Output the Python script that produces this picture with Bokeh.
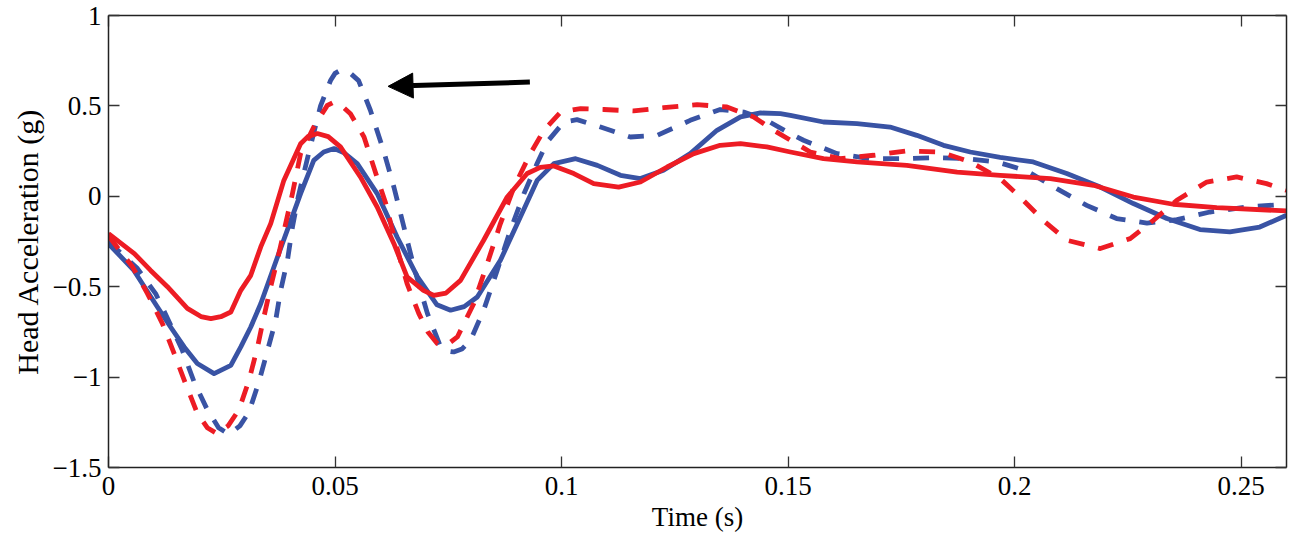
from bokeh.plotting import figure
from bokeh.models import Range1d, LinearAxis, FixedTicker, Arrow, NormalHead
from bokeh.embed import file_html
from bokeh.resources import INLINE

# ---- data ----
x_ticks = [0, 0.05, 0.1, 0.15, 0.2, 0.25]
x_tick_labels = ["0", "0.05", "0.1", "0.15", "0.2", "0.25"]
y_ticks = [-1.5, -1, -0.5, 0, 0.5, 1]
y_tick_labels = ["\u22121.5", "\u22121", "\u22120.5", "0", "0.5", "1"]

blue_solid_t = [0, 0.0056, 0.0108, 0.0137, 0.0167, 0.0196, 0.0233, 0.027, 0.0292, 0.0314,
                0.0336, 0.0373, 0.0424, 0.0453, 0.0475, 0.0498, 0.052, 0.0549, 0.0593, 0.0637,
                0.0682, 0.0725, 0.0755, 0.0785, 0.0814, 0.0865, 0.0909, 0.0946,
                0.0983, 0.1031, 0.1079, 0.113, 0.1174, 0.1225, 0.1284, 0.1343, 0.1395, 0.1439,
                0.1483, 0.1505, 0.1578, 0.1652, 0.1725, 0.1784, 0.1843, 0.1902, 0.1968, 0.2041,
                0.2115, 0.2189, 0.2262, 0.2336, 0.2409, 0.2475, 0.2541, 0.26]
blue_solid_g = [-0.262, -0.41, -0.612, -0.723, -0.833, -0.925, -0.981, -0.935, -0.833, -0.723,
                -0.594, -0.336, 0.015, 0.199, 0.245, 0.264, 0.24, 0.181, 0.015, -0.225,
                -0.446, -0.60, -0.63, -0.61, -0.557, -0.354, -0.114, 0.088,
                0.181, 0.208, 0.171, 0.116, 0.098, 0.144, 0.236, 0.365, 0.439, 0.461,
                0.457, 0.448, 0.411, 0.402, 0.383, 0.337, 0.282, 0.245, 0.215, 0.19,
                0.126, 0.051, -0.04, -0.123, -0.184, -0.197, -0.17, -0.105]

blue_dash_t = [0, 0.0064, 0.0104, 0.0134, 0.0163, 0.0189, 0.0218, 0.0243, 0.0266, 0.029, 0.031,
               0.0332, 0.0351, 0.0369, 0.038, 0.0395, 0.0406, 0.0419, 0.0443, 0.0468, 0.049,
               0.0500, 0.0512, 0.0525, 0.0534, 0.0552, 0.0578, 0.0607, 0.063, 0.0652, 0.0674,
               0.0704, 0.0733, 0.0745, 0.0762, 0.078,
               0.0799, 0.0828, 0.0858, 0.0887, 0.0917, 0.0946, 0.0968, 0.1005, 0.1034, 0.1086,
               0.1152, 0.1211, 0.1284, 0.135, 0.1402, 0.1453, 0.1498, 0.1534, 0.1608, 0.1681,
               0.1755, 0.1828, 0.1895, 0.1961, 0.2027, 0.2093, 0.2159, 0.2225, 0.2292, 0.2358,
               0.2431, 0.2512, 0.26]
blue_dash_g = [-0.25, -0.40, -0.538, -0.695, -0.852, -1.027, -1.18, -1.28, -1.316, -1.27, -1.193,
               -1.027, -0.852, -0.686, -0.52, -0.354, -0.17, 0.0, 0.25, 0.5, 0.64,
               0.68, 0.697, 0.69, 0.68, 0.64, 0.476, 0.254, 0.05, -0.17, -0.391,
               -0.649, -0.833, -0.855, -0.861, -0.845,
               -0.796, -0.63, -0.409, -0.188, 0.015, 0.181, 0.30, 0.411, 0.424, 0.383,
               0.328, 0.337, 0.42, 0.48, 0.466, 0.42, 0.356, 0.31, 0.236, 0.208,
               0.208, 0.214, 0.208, 0.19, 0.14, 0.042, -0.05, -0.123, -0.148, -0.129,
               -0.087, -0.059, -0.044]

red_solid_t = [0, 0.0057, 0.0093, 0.013, 0.0174, 0.0204, 0.0226, 0.0248, 0.027, 0.0292, 0.0314,
               0.0336, 0.0358, 0.0387, 0.0424, 0.044, 0.0461, 0.0485,
               0.0512, 0.0556, 0.0593, 0.063, 0.0659, 0.0695, 0.0718, 0.0745, 0.0777, 0.0828,
               0.088, 0.0924, 0.0953, 0.0983, 0.1027, 0.1071, 0.1126, 0.1174, 0.1233, 0.1292,
               0.135, 0.1395, 0.1453, 0.1505, 0.1578, 0.1652, 0.1762, 0.1873, 0.1968, 0.2079,
               0.2174, 0.2262, 0.235, 0.2446, 0.26]
red_solid_g = [-0.206, -0.317, -0.41, -0.50, -0.62, -0.665, -0.677, -0.666, -0.64, -0.52, -0.437,
               -0.28, -0.151, 0.088, 0.291, 0.33, 0.347, 0.33,
               0.273, 0.107, -0.059, -0.262, -0.446, -0.52, -0.548, -0.535, -0.465, -0.243,
               -0.004, 0.126, 0.16, 0.168, 0.126, 0.07, 0.051, 0.079, 0.162, 0.236,
               0.282, 0.291, 0.273, 0.245, 0.208, 0.19, 0.171, 0.134, 0.116, 0.098,
               0.061, -0.004, -0.044, -0.063, -0.081]

red_dash_t = [0, 0.0053, 0.0086, 0.0119, 0.0145, 0.017, 0.0196, 0.0218, 0.024, 0.0264, 0.0288,
              0.031, 0.0329, 0.0343, 0.0358, 0.0376, 0.0391, 0.0406, 0.0424, 0.0453, 0.0483,
              0.0498, 0.0515, 0.0534, 0.0564, 0.059, 0.0612, 0.0634, 0.0659, 0.0685, 0.0705,
              0.0726, 0.0748, 0.077, 0.0806,
              0.0836, 0.0865, 0.0895, 0.0931, 0.0961, 0.0998, 0.1042, 0.1093, 0.1159, 0.1225,
              0.1299, 0.1365, 0.1424, 0.1468, 0.1512, 0.1549, 0.1615, 0.1689, 0.1762, 0.1836,
              0.1902, 0.1968, 0.2012, 0.2063, 0.2115, 0.2189, 0.2255, 0.2306, 0.2358, 0.2424,
              0.249, 0.2556, 0.26]
red_dash_g = [-0.22, -0.39, -0.538, -0.704, -0.87, -1.036, -1.2, -1.28, -1.313, -1.27, -1.18,
              -1.018, -0.833, -0.667, -0.50, -0.317, -0.151, 0.015, 0.236, 0.383, 0.503,
              0.522, 0.50, 0.457, 0.328, 0.126, -0.04, -0.262, -0.483, -0.649, -0.75,
              -0.815, -0.82, -0.778, -0.594,
              -0.372, -0.151, 0.051, 0.236, 0.365, 0.466, 0.485, 0.48, 0.472, 0.49,
              0.507, 0.494, 0.439, 0.365, 0.30, 0.245, 0.208, 0.227, 0.251, 0.245,
              0.19, 0.098, -0.004, -0.133, -0.243, -0.289, -0.234, -0.133, -0.022, 0.079,
              0.107, 0.07, 0.033]

arrow_t = [0.093, 0.0617]
arrow_g = [0.632, 0.608]

# ---- style ----
BLUE = "#3953A4"
RED = "#ED1C24"
AXIS = "#222222"
SERIF = "Liberation Serif"
FS = "27px"

p = figure(width=1292, height=539, x_range=Range1d(0, 0.26), y_range=Range1d(-1.5, 1),
           output_backend="svg", toolbar_location=None,
           min_border_left=108, min_border_right=6, min_border_top=15, min_border_bottom=72,
           x_axis_label="Time (s)", y_axis_label="Head Acceleration (g)")
p.grid.visible = False
p.outline_line_color = None
p.background_fill_color = "white"
p.border_fill_color = "white"

xt = FixedTicker(ticks=x_ticks)
yt = FixedTicker(ticks=y_ticks)

def style(ax, ticker, labels, ticks):
    ax.ticker = ticker
    ax.major_tick_in = 11
    ax.major_tick_out = 0
    ax.minor_tick_line_color = None
    ax.axis_line_color = AXIS
    ax.axis_line_width = 1.5
    ax.major_tick_line_color = "#333333"
    ax.major_tick_line_width = 1.3
    ax.major_label_text_font = SERIF
    ax.major_label_text_font_size = FS
    ax.major_label_text_color = "black"
    ax.major_label_overrides = {float(t): l for t, l in zip(ticks, labels)}

style(p.xaxis[0], xt, x_tick_labels, x_ticks)
style(p.yaxis[0], yt, y_tick_labels, y_ticks)
p.xaxis[0].major_label_standoff = 9
p.yaxis[0].major_label_standoff = 7
for ax in (p.xaxis[0], p.yaxis[0]):
    ax.axis_label_text_font = SERIF
    ax.axis_label_text_font_size = FS
    ax.axis_label_text_font_style = "normal"
    ax.axis_label_text_color = "black"
p.yaxis[0].axis_label_text_font_size = "30px"
p.xaxis[0].axis_label_standoff = 4
p.yaxis[0].axis_label_standoff = 6

top = LinearAxis()
right = LinearAxis()
style(top, xt, x_tick_labels, x_ticks)
style(right, yt, y_tick_labels, y_ticks)
for ax in (top, right):
    ax.major_label_text_font_size = "0px"
    ax.major_label_standoff = 0
    ax.major_label_text_color = None
p.add_layout(top, "above")
p.add_layout(right, "right")

p.line(blue_solid_t, blue_solid_g, line_color=BLUE, line_width=4.8, line_join="round")
p.line(blue_dash_t, blue_dash_g, line_color=BLUE, line_width=4.8, line_dash="16 14", line_join="round")
p.line(red_solid_t, red_solid_g, line_color=RED, line_width=4.8, line_join="round")
p.line(red_dash_t, red_dash_g, line_color=RED, line_width=4.8, line_dash="16 14", line_join="round")

p.add_layout(Arrow(end=NormalHead(size=25, fill_color="black", line_color="black"),
                   x_start=arrow_t[0], y_start=arrow_g[0], x_end=arrow_t[1], y_end=arrow_g[1],
                   line_color="black", line_width=5))

open("out.html", "w").write(file_html(p, INLINE))
